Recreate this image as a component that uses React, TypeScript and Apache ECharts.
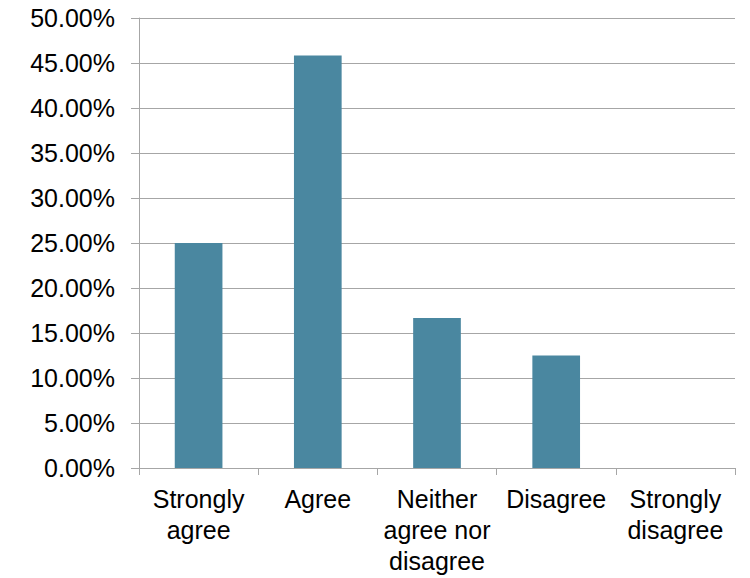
import React, { useEffect, useRef } from "react";
import * as echarts from "echarts";

const categories = [
  "Strongly\nagree",
  "Agree",
  "Neither\nagree nor\ndisagree",
  "Disagree",
  "Strongly\ndisagree",
];
const percentValues = [25, 45.83, 16.67, 12.5, 0];
const yMin = 0;
const yMax = 50;
const yInterval = 5;

const FONT = '"Liberation Sans", Arial, sans-serif';
const GRAY = "#a6a6a6";

export default function App() {
  const ref = useRef<HTMLDivElement>(null);
  useEffect(() => {
    if (!ref.current) return;
    const chart = echarts.init(ref.current, undefined, { renderer: "svg" });
    chart.setOption({
      animation: false,
      backgroundColor: "#ffffff",
      textStyle: { fontFamily: FONT },
      grid: { left: 139, right: 15, top: 18, bottom: 110, containLabel: false },
      xAxis: {
        type: "category",
        data: categories,
        axisLine: { show: true, lineStyle: { color: GRAY, width: 1 } },
        axisTick: { show: true, alignWithLabel: false, interval: 0, length: 7, lineStyle: { color: GRAY } },
        axisLabel: {
          interval: 0,
          margin: 15,
          color: "#000000",
          fontFamily: FONT,
          fontSize: 25,
          lineHeight: 31,
        },
      },
      yAxis: {
        type: "value",
        min: yMin,
        max: yMax,
        interval: yInterval,
        axisLine: { show: true, lineStyle: { color: GRAY, width: 1 } },
        axisTick: { show: true, length: 8, lineStyle: { color: GRAY } },
        splitLine: { show: true, lineStyle: { color: GRAY, width: 1 } },
        axisLabel: {
          margin: 24,
          color: "#000000",
          fontFamily: FONT,
          fontSize: 25,
          formatter: (v: number) => v.toFixed(2) + "%",
        },
      },
      series: [
        {
          type: "bar",
          data: percentValues,
          barWidth: "40%",
          itemStyle: { color: "#4A87A0" },
        },
      ],
    });
    return () => chart.dispose();
  }, []);
  return <div ref={ref} style={{ width: 750, height: 578, position: "absolute", left: 0, top: 0 }} />;
}
